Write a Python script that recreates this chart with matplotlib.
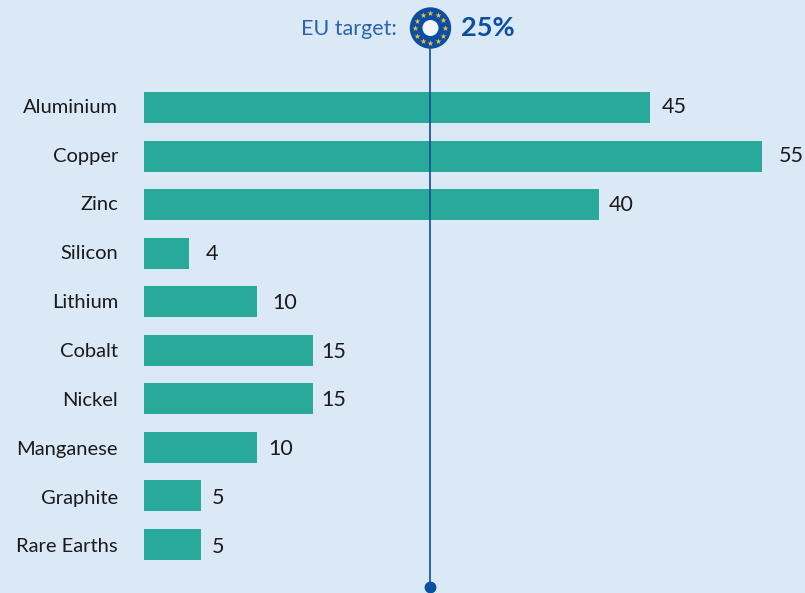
import numpy as np
import matplotlib
matplotlib.use('Agg')
import matplotlib.pyplot as plt
from matplotlib.patches import Circle

materials = ['Aluminium', 'Copper', 'Zinc', 'Silicon', 'Lithium',
             'Cobalt', 'Nickel', 'Manganese', 'Graphite', 'Rare Earths']
# bar lengths as drawn, they don't always agree with the printed label
bar_lengths = [45, 55, 40.5, 4, 10.05, 15.05, 15.05, 10.05, 5.05, 5.05]
printed_values = ['45', '55', '40', '4', '10', '15', '15', '10', '5', '5']
target_value = 25.45
target_label = '25%'

# gap between bar end and its label, pixels
label_gaps = [12, 17, 10, 17, 15, 8, 8, 11, 11, 11]

BG = '#dbe8f6'
BAR = '#29a999'
BLUE = '#0b4ea2'
TEXT = '#1a1a1a'
W, H = 805, 593

plt.rcParams['font.family'] = 'Lato'

fig = plt.figure(figsize=(W / 100, H / 100), dpi=100, facecolor=BG)

# main axes, placed so that 0 sits at px 144 and 55 at px 762
step = 48.56
top, bottom = 107.5 - step / 2, 544.5 + step / 2
ax = fig.add_axes([144 / W, 1 - bottom / H, (762 - 144) / W, (bottom - top) / H])
ax.patch.set_alpha(0)
y = np.arange(len(materials))
ax.barh(y, bar_lengths, height=31 / step, color=BAR)
ax.set_xlim(0, 55)
ax.set_ylim(len(materials) - 0.5, -0.5)
ax.set_yticks([])
ax.xaxis.set_visible(False)
for s in ax.spines.values():
    s.set_visible(False)

# overlay in pixel coordinates for text, target line and emblem
over = fig.add_axes([0, 0, 1, 1])
over.set_xlim(0, W)
over.set_ylim(H, 0)
over.axis('off')

# text rows run on a slightly wider pitch than the bars
for i in range(len(materials)):
    row = 107.3 + 48.85 * i
    over.text(118, row, materials[i], ha='right', va='center', fontsize=14.5, color=TEXT)
    end = 144 + bar_lengths[i] * (762 - 144) / 55
    over.text(end + label_gaps[i], row, printed_values[i], ha='left', va='center',
              fontsize=15.5, color=TEXT)

tx = 144 + target_value * (762 - 144) / 55
over.plot([tx, tx], [28, 587], color=BLUE, lw=1.2, zorder=3)
over.plot([tx], [587], 'o', color=BLUE, ms=7.5, zorder=3)

over.add_patch(Circle((tx + 0.5, 28), 20.7, facecolor=BLUE, lw=0, zorder=4))
over.add_patch(Circle((tx + 0.5, 28), 8, facecolor='#f2f7fc', lw=0, zorder=5))
a = np.arange(12) * np.pi / 6
over.scatter(tx + 0.5 + 15 * np.cos(a), 28 + 15 * np.sin(a), marker='*', s=20,
             color='#f5c02c', linewidths=0, zorder=6)

over.text(397, 29, 'EU target:', ha='right', va='center', fontsize=15.5, color='#2a66ad')
over.text(461, 28, target_label, ha='left', va='center', fontsize=19.5,
          fontweight='bold', color=BLUE)

fig.savefig('out.png', dpi=100, facecolor=BG)
